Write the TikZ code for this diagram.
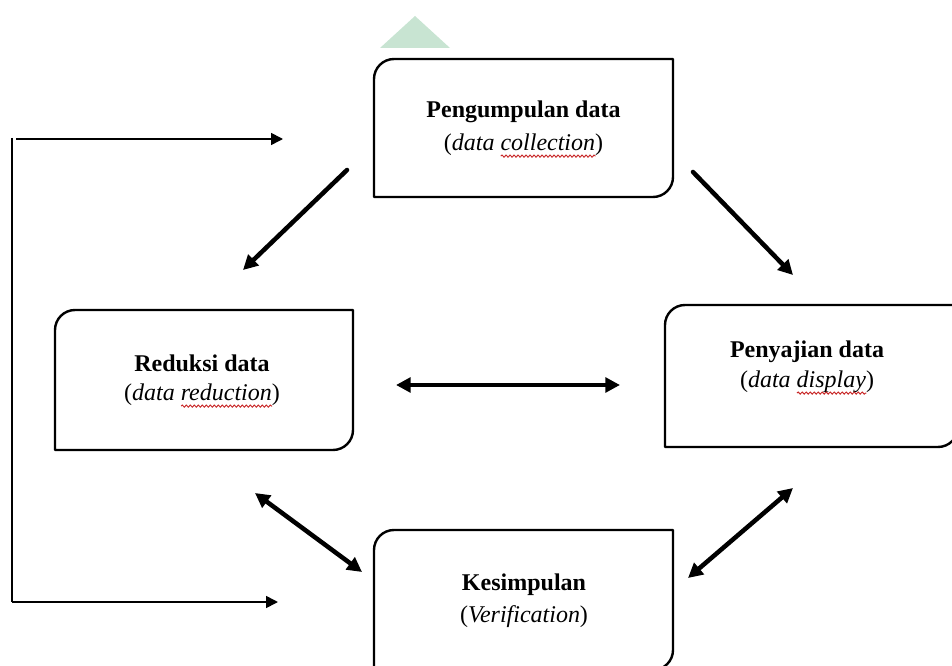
\documentclass[tikz,border=0pt]{standalone}
\usepackage{fontspec}
\setmainfont{Liberation Serif}
\usetikzlibrary{arrows.meta,decorations.pathmorphing}
\definecolor{wmgreen}{RGB}{200,228,210}
\definecolor{spellred}{RGB}{200,40,40}
\newlength\wparen
\newlength\wcoll
\newlength\wred
\newlength\wdisp
\newcommand\boxfont{\fontsize{18}{25}\selectfont}
\newcommand\roundbox[4]{%
  \draw[boxline] (#1,#2+20) arc[start angle=180,end angle=90,radius=15pt]
    -- (#3,#2) -- (#3,#4-20) arc[start angle=0,end angle=-90,radius=15pt]
    -- (#1,#4) -- cycle;}
\begin{document}
\settowidth\wparen{\boxfont )}%
\settowidth\wcoll{\boxfont\itshape collection}%
\settowidth\wred{\boxfont\itshape reduction}%
\settowidth\wdisp{\boxfont\itshape display}%
\begin{tikzpicture}[x=0.75pt,y=-0.75pt,
  boxline/.style={line width=1.8pt,line join=round},
  boxtext/.style={align=center,font=\boxfont,inner sep=0pt},
  spell/.style={draw=spellred,line width=0.7pt,decorate,
    decoration={snake,segment length=3pt,amplitude=0.8pt}},
  thickarrow/.style={line width=3.4pt,line cap=round,-{Triangle[length=11pt,width=11pt]}},
  thickboth/.style={line width=3.4pt,{Triangle[length=11pt,width=11pt]}-{Triangle[length=11pt,width=11pt]}},
  thinline/.style={line width=1.2pt},
  thinarrow/.style={line width=1.2pt,-{Triangle[length=9pt,width=9pt]}}]
\useasboundingbox (0,0) rectangle (952,666);
% watermark fragment
\fill[wmgreen] (380,48) -- (415,16) -- (450,48) -- cycle;
% boxes
\roundbox{374}{59}{673}{197}
\roundbox{55}{310}{353}{450}
\roundbox{665}{305}{958}{447}
\roundbox{374}{530}{673}{670}
% texts
\node[boxtext] (collect) at (523.5,112) {\textbf{Pengumpulan data}};
\node[boxtext] (collectI) at (523.5,145) {(\textit{data collection})};
\node[boxtext] (reduce) at (202,363) {\textbf{Reduksi data}};
\node[boxtext] (reduceI) at (202,395) {(\textit{data reduction})};
\node[boxtext] (display) at (807,352) {\textbf{Penyajian data}};
\node[boxtext] (displayI) at (807,382) {(\textit{data display})};
\node[boxtext] (verify) at (524,585) {\textbf{Kesimpulan}};
\node[boxtext] (verifyI) at (524,617) {(\textit{Verification})};
% spelling marks
\draw[spell] ([xshift=-\wparen-\wcoll,yshift=-4pt]collectI.base east) -- ([xshift=-\wparen,yshift=-4pt]collectI.base east);
\draw[spell] ([xshift=-\wparen-\wred,yshift=-4pt]reduceI.base east) -- ([xshift=-\wparen,yshift=-4pt]reduceI.base east);
\draw[spell] ([xshift=-\wparen-\wdisp,yshift=-4pt]displayI.base east) -- ([xshift=-\wparen,yshift=-4pt]displayI.base east);
% arrow end points
\coordinate (a1s) at (347,170); \coordinate (a1e) at (243,270);
\coordinate (a2s) at (693,172); \coordinate (a2e) at (793,275);
\coordinate (a3s) at (396,385); \coordinate (a3e) at (620,385);
\coordinate (a4s) at (255,493); \coordinate (a4e) at (362,572);
\coordinate (a5s) at (793,488); \coordinate (a5e) at (688,578);
\coordinate (ftop) at (12,138); \coordinate (fbot) at (12,602);
\coordinate (ftopS) at (16,139); \coordinate (ftopE) at (283,139);
\coordinate (fbotE) at (278,602);
% arrows
\draw[thickarrow] (a1s) -- (a1e);
\draw[thickarrow] (a2s) -- (a2e);
\draw[thickboth] (a3s) -- (a3e);
\draw[thickboth] (a4s) -- (a4e);
\draw[thickboth] (a5s) -- (a5e);
% feedback loop
\draw[thinline] (ftop) -- (fbot);
\draw[thinarrow] (ftopS) -- (ftopE);
\draw[thinarrow] (fbot) -- (fbotE);
\end{tikzpicture}
\end{document}
